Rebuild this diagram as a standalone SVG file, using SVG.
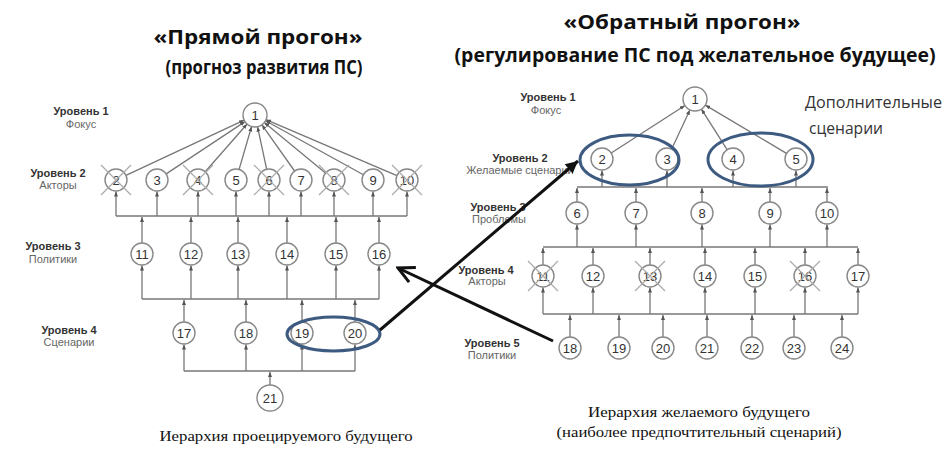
<svg xmlns="http://www.w3.org/2000/svg" width="951" height="461" viewBox="0 0 951 461">
<defs>
<marker id="ah" viewBox="0 0 10 10" refX="10" refY="5" markerWidth="5" markerHeight="5" markerUnits="userSpaceOnUse" orient="auto"><path d="M0,1 L10,5 L0,9 Z" fill="#555"/></marker>
<marker id="big" viewBox="0 0 20 20" refX="18" refY="10" markerWidth="20" markerHeight="20" markerUnits="userSpaceOnUse" orient="auto"><path d="M2,2 L18,10 L2,18" fill="none" stroke="#111" stroke-width="3"/></marker>
<marker id="big2" viewBox="0 0 16 16" refX="15" refY="8" markerWidth="14" markerHeight="14" markerUnits="userSpaceOnUse" orient="auto"><path d="M1,1 L15,8 L1,15 Z" fill="#111"/></marker>
</defs>
<style>
.title{font-family:"Open Sans","Noto Sans",sans-serif;font-weight:bold;font-size:19.5px;fill:#111;text-anchor:middle}
.lv{font-family:"Liberation Sans",Arial,sans-serif;font-weight:bold;font-size:11px;fill:#333;text-anchor:middle}
.sub{font-family:"Liberation Sans",Arial,sans-serif;font-size:11px;fill:#666;text-anchor:middle}
.n circle{fill:#fff;stroke:#888;stroke-width:1.4}
.n text{font-family:"Liberation Sans",Arial,sans-serif;font-size:13px;fill:#333;text-anchor:middle}
.x{stroke:#aaa;stroke-width:1.2}
.c line,.c path{stroke:#777;stroke-width:1.3;fill:none}
.ar{marker-end:url(#ah)}
.cap{font-family:"Liberation Serif","Times New Roman",serif;font-size:15px;fill:#111;text-anchor:middle}
.ell{fill:none;stroke:#3d5a80;stroke-width:3}
.blk{stroke:#111;stroke-width:3;fill:none}
.extra{font-family:"Open Sans","Noto Sans",sans-serif;font-size:16px;fill:#333}
</style>
<rect width="951" height="461" fill="#fff"/>

<g id="titles">
<text class="title" x="258" y="44" textLength="209" lengthAdjust="spacingAndGlyphs">«Прямой прогон»</text>
<text class="title" x="264" y="74" textLength="197" lengthAdjust="spacingAndGlyphs">(прогноз развития ПС)</text>
<text class="title" x="682" y="29" textLength="237" lengthAdjust="spacingAndGlyphs">«Обратный прогон»</text>
<text class="title" x="695" y="62" textLength="481" lengthAdjust="spacingAndGlyphs">(регулирование ПС под желательное будущее)</text>
</g>

<g id="left-labels">
<text class="lv" x="81" y="115">Уровень 1</text><text class="sub" x="81" y="128">Фокус</text>
<text class="lv" x="58" y="177">Уровень 2</text><text class="sub" x="58" y="189">Акторы</text>
<text class="lv" x="53" y="250">Уровень 3</text><text class="sub" x="53" y="263">Политики</text>
<text class="lv" x="69" y="334">Уровень 4</text><text class="sub" x="69" y="346">Сценарии</text>
</g>
<g id="right-labels">
<text class="lv" x="548" y="101">Уровень 1</text><text class="sub" x="546" y="114">Фокус</text>
<text class="lv" x="520" y="162">Уровень 2</text><text class="sub" x="520" y="174">Желаемые сценарии</text>
<text class="lv" x="498" y="211">Уровень 3</text><text class="sub" x="499" y="223">Проблемы</text>
<text class="lv" x="486" y="274">Уровень 4</text><text class="sub" x="487" y="285">Акторы</text>
<text class="lv" x="492" y="347">Уровень 5</text><text class="sub" x="492" y="359">Политики</text>
<text class="extra" x="805" y="108" textLength="137" lengthAdjust="spacingAndGlyphs">Дополнительные</text>
<text class="extra" x="809" y="134" textLength="74" lengthAdjust="spacingAndGlyphs">сценарии</text>
</g>

<g id="connectors" class="c">
<line class="ar" x1="126" y1="175.3" x2="244.1" y2="120.1"/>
<line class="ar" x1="166.2" y1="173.9" x2="245" y2="121.6"/>
<line class="ar" x1="205.2" y1="171.7" x2="247.1" y2="124"/>
<line class="ar" x1="239.1" y1="169.4" x2="251.6" y2="126.5"/>
<line class="ar" x1="266.7" y1="169.3" x2="257.5" y2="126.7"/>
<line class="ar" x1="294.6" y1="171" x2="261.9" y2="124.8"/>
<line class="ar" x1="325.5" y1="173" x2="264.3" y2="122.6"/>
<line class="ar" x1="363.4" y1="174.7" x2="265.5" y2="120.8"/>
<line class="ar" x1="396.9" y1="175.7" x2="266" y2="119.7"/>
<line x1="116" y1="216" x2="407" y2="216"/>
<line class="ar" x1="116" y1="216" x2="116" y2="191.5"/>
<line class="ar" x1="157" y1="216" x2="157" y2="191.5"/>
<line class="ar" x1="198" y1="216" x2="198" y2="191.5"/>
<line class="ar" x1="236" y1="216" x2="236" y2="191.5"/>
<line class="ar" x1="269" y1="216" x2="269" y2="191.5"/>
<line class="ar" x1="301" y1="216" x2="301" y2="191.5"/>
<line class="ar" x1="334" y1="216" x2="334" y2="191.5"/>
<line class="ar" x1="373" y1="216" x2="373" y2="191.5"/>
<line class="ar" x1="407" y1="216" x2="407" y2="191.5"/>
<line class="ar" x1="142" y1="243" x2="142" y2="217"/>
<line class="ar" x1="191" y1="243" x2="191" y2="217"/>
<line class="ar" x1="238" y1="243" x2="238" y2="217"/>
<line class="ar" x1="287" y1="243" x2="287" y2="217"/>
<line class="ar" x1="336" y1="243" x2="336" y2="217"/>
<line class="ar" x1="379" y1="243" x2="379" y2="217"/>
<line x1="142" y1="299" x2="379" y2="299"/>
<line class="ar" x1="142" y1="299" x2="142" y2="265.5"/>
<line class="ar" x1="191" y1="299" x2="191" y2="265.5"/>
<line class="ar" x1="238" y1="299" x2="238" y2="265.5"/>
<line class="ar" x1="287" y1="299" x2="287" y2="265.5"/>
<line class="ar" x1="336" y1="299" x2="336" y2="265.5"/>
<line class="ar" x1="379" y1="299" x2="379" y2="265.5"/>
<line class="ar" x1="184" y1="322" x2="184" y2="300"/>
<line class="ar" x1="246" y1="322" x2="246" y2="300"/>
<line class="ar" x1="302" y1="322" x2="302" y2="300"/>
<line class="ar" x1="355" y1="322" x2="355" y2="300"/>
<line x1="184" y1="371" x2="355" y2="371"/>
<line class="ar" x1="184" y1="371" x2="184" y2="344.5"/>
<line class="ar" x1="246" y1="371" x2="246" y2="344.5"/>
<line class="ar" x1="302" y1="371" x2="302" y2="344.5"/>
<line class="ar" x1="355" y1="371" x2="355" y2="344.5"/>
<line class="ar" x1="270" y1="385" x2="270" y2="372"/>

<line class="ar" x1="611.2" y1="153" x2="684.9" y2="105.5"/>
<line class="ar" x1="671.7" y1="149" x2="689.9" y2="109.9"/>
<line class="ar" x1="727.1" y1="149.7" x2="701.4" y2="109.1"/>
<line class="ar" x1="786.5" y1="153.4" x2="705.3" y2="105.1"/>
<line x1="577" y1="187" x2="828" y2="187"/>
<line class="ar" x1="602" y1="187" x2="602" y2="170.5"/>
<line class="ar" x1="667" y1="187" x2="667" y2="170.5"/>
<line class="ar" x1="733" y1="187" x2="733" y2="170.5"/>
<line class="ar" x1="796" y1="187" x2="796" y2="170.5"/>
<line class="ar" x1="577" y1="202" x2="577" y2="188"/>
<line class="ar" x1="636" y1="202" x2="636" y2="188"/>
<line class="ar" x1="702" y1="202" x2="702" y2="188"/>
<line class="ar" x1="770" y1="202" x2="770" y2="188"/>
<line class="ar" x1="827" y1="202" x2="827" y2="188"/>
<line x1="543" y1="247" x2="858" y2="247"/>
<line class="ar" x1="577" y1="247" x2="577" y2="224.5"/>
<line class="ar" x1="636" y1="247" x2="636" y2="224.5"/>
<line class="ar" x1="702" y1="247" x2="702" y2="224.5"/>
<line class="ar" x1="770" y1="247" x2="770" y2="224.5"/>
<line class="ar" x1="827" y1="247" x2="827" y2="224.5"/>
<line class="ar" x1="543" y1="265" x2="543" y2="248"/>
<line class="ar" x1="593" y1="265" x2="593" y2="248"/>
<line class="ar" x1="650" y1="265" x2="650" y2="248"/>
<line class="ar" x1="705" y1="265" x2="705" y2="248"/>
<line class="ar" x1="755" y1="265" x2="755" y2="248"/>
<line class="ar" x1="805" y1="265" x2="805" y2="248"/>
<line class="ar" x1="858" y1="265" x2="858" y2="248"/>
<line x1="543" y1="314" x2="858" y2="314"/>
<line class="ar" x1="543" y1="314" x2="543" y2="287.5"/>
<line class="ar" x1="593" y1="314" x2="593" y2="287.5"/>
<line class="ar" x1="650" y1="314" x2="650" y2="287.5"/>
<line class="ar" x1="705" y1="314" x2="705" y2="287.5"/>
<line class="ar" x1="755" y1="314" x2="755" y2="287.5"/>
<line class="ar" x1="805" y1="314" x2="805" y2="287.5"/>
<line class="ar" x1="858" y1="314" x2="858" y2="287.5"/>
<line class="ar" x1="570" y1="337" x2="570" y2="315"/>
<line class="ar" x1="619" y1="337" x2="619" y2="315"/>
<line class="ar" x1="663" y1="337" x2="663" y2="315"/>
<line class="ar" x1="707" y1="337" x2="707" y2="315"/>
<line class="ar" x1="752" y1="337" x2="752" y2="315"/>
<line class="ar" x1="794" y1="337" x2="794" y2="315"/>
<line class="ar" x1="842" y1="337" x2="842" y2="315"/>
</g>

<g id="L1" class="n"><circle cx="255" cy="115" r="12"/><text x="255" y="120">1</text></g>
<g id="L2" class="n"><circle cx="116" cy="180" r="11"/><text x="116" y="185">2</text><path class="x" d="M101,165 L131,195 M131,165 L101,195"/></g>
<g id="L3" class="n"><circle cx="157" cy="180" r="11"/><text x="157" y="185">3</text></g>
<g id="L4" class="n"><circle cx="198" cy="180" r="11"/><text x="198" y="185">4</text><path class="x" d="M183,165 L213,195 M213,165 L183,195"/></g>
<g id="L5" class="n"><circle cx="236" cy="180" r="11"/><text x="236" y="185">5</text></g>
<g id="L6" class="n"><circle cx="269" cy="180" r="11"/><text x="269" y="185">6</text><path class="x" d="M254,165 L284,195 M284,165 L254,195"/></g>
<g id="L7" class="n"><circle cx="301" cy="180" r="11"/><text x="301" y="185">7</text></g>
<g id="L8" class="n"><circle cx="334" cy="180" r="11"/><text x="334" y="185">8</text><path class="x" d="M319,165 L349,195 M349,165 L319,195"/></g>
<g id="L9" class="n"><circle cx="373" cy="180" r="11"/><text x="373" y="185">9</text></g>
<g id="L10" class="n"><circle cx="407" cy="180" r="11"/><text x="407" y="185">10</text><path class="x" d="M392,165 L422,195 M422,165 L392,195"/></g>
<g id="L11" class="n"><circle cx="142" cy="254" r="11"/><text x="142" y="259">11</text></g>
<g id="L12" class="n"><circle cx="191" cy="254" r="11"/><text x="191" y="259">12</text></g>
<g id="L13" class="n"><circle cx="238" cy="254" r="11"/><text x="238" y="259">13</text></g>
<g id="L14" class="n"><circle cx="287" cy="254" r="11"/><text x="287" y="259">14</text></g>
<g id="L15" class="n"><circle cx="336" cy="254" r="11"/><text x="336" y="259">15</text></g>
<g id="L16" class="n"><circle cx="379" cy="254" r="11"/><text x="379" y="259">16</text></g>
<g id="L17" class="n"><circle cx="184" cy="333" r="11"/><text x="184" y="338">17</text></g>
<g id="L18" class="n"><circle cx="246" cy="333" r="11"/><text x="246" y="338">18</text></g>
<g id="L19" class="n"><circle cx="302" cy="333" r="11"/><text x="302" y="338">19</text></g>
<g id="L20" class="n"><circle cx="355" cy="333" r="11"/><text x="355" y="338">20</text></g>
<g id="L21" class="n"><circle cx="270" cy="398" r="13"/><text x="270" y="403">21</text></g>

<g id="R1" class="n"><circle cx="695" cy="99" r="12"/><text x="695" y="104">1</text></g>
<g id="R2" class="n"><circle cx="602" cy="159" r="11"/><text x="602" y="164">2</text></g>
<g id="R3" class="n"><circle cx="667" cy="159" r="11"/><text x="667" y="164">3</text></g>
<g id="R4" class="n"><circle cx="733" cy="159" r="11"/><text x="733" y="164">4</text></g>
<g id="R5" class="n"><circle cx="796" cy="159" r="11"/><text x="796" y="164">5</text></g>
<g id="R6" class="n"><circle cx="577" cy="213" r="11"/><text x="577" y="218">6</text></g>
<g id="R7" class="n"><circle cx="636" cy="213" r="11"/><text x="636" y="218">7</text></g>
<g id="R8" class="n"><circle cx="702" cy="213" r="11"/><text x="702" y="218">8</text></g>
<g id="R9" class="n"><circle cx="770" cy="213" r="11"/><text x="770" y="218">9</text></g>
<g id="R10" class="n"><circle cx="827" cy="213" r="11"/><text x="827" y="218">10</text></g>
<g id="R11" class="n"><circle cx="543" cy="276" r="11"/><text x="543" y="281">11</text><path class="x" d="M528,261 L558,291 M558,261 L528,291"/></g>
<g id="R12" class="n"><circle cx="593" cy="276" r="11"/><text x="593" y="281">12</text></g>
<g id="R13" class="n"><circle cx="650" cy="276" r="11"/><text x="650" y="281">13</text><path class="x" d="M635,261 L665,291 M665,261 L635,291"/></g>
<g id="R14" class="n"><circle cx="705" cy="276" r="11"/><text x="705" y="281">14</text></g>
<g id="R15" class="n"><circle cx="755" cy="276" r="11"/><text x="755" y="281">15</text></g>
<g id="R16" class="n"><circle cx="805" cy="276" r="11"/><text x="805" y="281">16</text><path class="x" d="M790,261 L820,291 M820,261 L790,291"/></g>
<g id="R17" class="n"><circle cx="858" cy="276" r="11"/><text x="858" y="281">17</text></g>
<g id="R18" class="n"><circle cx="570" cy="348" r="11"/><text x="570" y="353">18</text></g>
<g id="R19" class="n"><circle cx="619" cy="348" r="11"/><text x="619" y="353">19</text></g>
<g id="R20" class="n"><circle cx="663" cy="348" r="11"/><text x="663" y="353">20</text></g>
<g id="R21" class="n"><circle cx="707" cy="348" r="11"/><text x="707" y="353">21</text></g>
<g id="R22" class="n"><circle cx="752" cy="348" r="11"/><text x="752" y="353">22</text></g>
<g id="R23" class="n"><circle cx="794" cy="348" r="11"/><text x="794" y="353">23</text></g>
<g id="R24" class="n"><circle cx="842" cy="348" r="11"/><text x="842" y="353">24</text></g>

<g id="highlights">
<ellipse class="ell" cx="333.5" cy="334" rx="46.5" ry="17"/>
<ellipse class="ell" cx="629.5" cy="160" rx="49.5" ry="25"/>
<ellipse class="ell" cx="760.5" cy="159.5" rx="52.5" ry="26.5"/>
</g>

<g id="cross-arrows">
<line class="blk" x1="380" y1="330" x2="578" y2="161" marker-end="url(#big2)"/>
<line class="blk" x1="553" y1="341" x2="398" y2="268" marker-end="url(#big)"/>
</g>

<g id="captions">
<text class="cap" x="286" y="441" textLength="253" lengthAdjust="spacingAndGlyphs">Иерархия проецируемого будущего</text>
<text class="cap" x="699" y="417" textLength="222" lengthAdjust="spacingAndGlyphs">Иерархия желаемого будущего</text>
<text class="cap" x="699" y="437" textLength="285" lengthAdjust="spacingAndGlyphs">(наиболее предпочтительный сценарий)</text>
</g>
</svg>
